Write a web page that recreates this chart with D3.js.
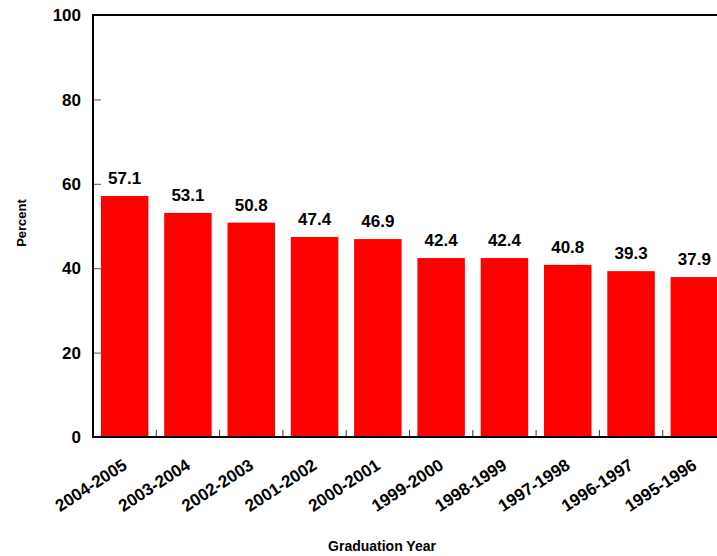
<!DOCTYPE html>
<html>
<head>
<meta charset="utf-8">
<script src="https://cdn.jsdelivr.net/npm/d3@7"></script>
<style>
  html, body { margin: 0; padding: 0; background: #fff; overflow: hidden; }
  svg { display: block; font-family: Arial, "Liberation Sans", Helvetica, sans-serif; }
</style>
</head>
<body>
<svg id="chart" width="717" height="556"></svg>
<script>
// Share of graduates by graduation year
const years = ["2004-2005", "2003-2004", "2002-2003", "2001-2002", "2000-2001",
               "1999-2000", "1998-1999", "1997-1998", "1996-1997", "1995-1996"];
const percents = [57.1, 53.1, 50.8, 47.4, 46.9, 42.4, 42.4, 40.8, 39.3, 37.9];
const yTicks = [0, 20, 40, 60, 80, 100];

const svg = d3.select("#chart");
const plotLeft = 93, plotTop = 15, plotBottom = 437;
const step = 63.3;

const x = d3.scaleBand()
  .domain(years)
  .range([plotLeft, plotLeft + step * years.length])
  .paddingInner(0.25)
  .paddingOuter(0.125);

const y = d3.scaleLinear().domain([0, 100]).range([plotBottom, plotTop]);

const data = years.map((yr, i) => ({ year: yr, value: percents[i] }));

// bars
svg.append("g").selectAll("rect")
  .data(data)
  .join("rect")
  .attr("x", d => x(d.year))
  .attr("y", d => y(d.value))
  .attr("width", x.bandwidth())
  .attr("height", d => y(0) - y(d.value))
  .attr("fill", "#ff0000");

// value labels
svg.append("g").selectAll("text")
  .data(data)
  .join("text")
  .attr("x", d => x(d.year) + x.bandwidth() / 2)
  .attr("y", d => y(d.value) - 12)
  .attr("text-anchor", "middle")
  .attr("font-size", 17)
  .attr("font-weight", "bold")
  .attr("fill", "#000")
  .text(d => d.value.toFixed(1));

// y axis
const yAxis = svg.append("g")
  .attr("transform", `translate(${plotLeft},0)`)
  .call(d3.axisRight(y).tickValues(yTicks).tickSize(8).tickFormat(""));
yAxis.select(".domain").remove();
yAxis.selectAll(".tick line").attr("stroke", "#555").attr("stroke-width", 1);

svg.append("g").selectAll("text")
  .data(yTicks)
  .join("text")
  .attr("x", plotLeft - 12)
  .attr("y", d => y(d))
  .attr("dy", "0.36em")
  .attr("text-anchor", "end")
  .attr("font-size", 17)
  .attr("font-weight", "bold")
  .text(d => d);

// x axis boundary ticks
const bounds = years.slice(1).map(yr => x(yr) - x.step() * x.paddingInner() / 2);
svg.append("g").selectAll("line")
  .data(bounds)
  .join("line")
  .attr("x1", d => d).attr("x2", d => d)
  .attr("y1", plotBottom).attr("y2", plotBottom - 7)
  .attr("stroke", "#333")
  .attr("stroke-width", 1);

// frame lines
svg.append("line")
  .attr("x1", plotLeft).attr("x2", 717)
  .attr("y1", plotTop).attr("y2", plotTop)
  .attr("stroke", "#000").attr("stroke-width", 2);
svg.append("line")
  .attr("x1", plotLeft).attr("x2", 717)
  .attr("y1", plotBottom).attr("y2", plotBottom)
  .attr("stroke", "#000").attr("stroke-width", 2);
svg.append("line")
  .attr("x1", plotLeft).attr("x2", plotLeft)
  .attr("y1", plotTop - 1).attr("y2", plotBottom + 1)
  .attr("stroke", "#000").attr("stroke-width", 2);

// x category labels
svg.append("g").selectAll("text")
  .data(years)
  .join("text")
  .attr("transform", d => `translate(${x(d) + x.bandwidth() / 2 + 3.5},${plotBottom + 31}) rotate(-33)`)
  .attr("text-anchor", "end")
  .attr("font-size", 17)
  .attr("font-weight", "bold")
  .text(d => d);

// axis titles
svg.append("text")
  .attr("x", 382)
  .attr("y", 551)
  .attr("text-anchor", "middle")
  .attr("font-size", 14)
  .attr("font-weight", "bold")
  .text("Graduation Year");

svg.append("text")
  .attr("transform", "translate(26,223) rotate(-90)")
  .attr("text-anchor", "middle")
  .attr("font-size", 13)
  .attr("font-weight", "bold")
  .text("Percent");
</script>
</body>
</html>
